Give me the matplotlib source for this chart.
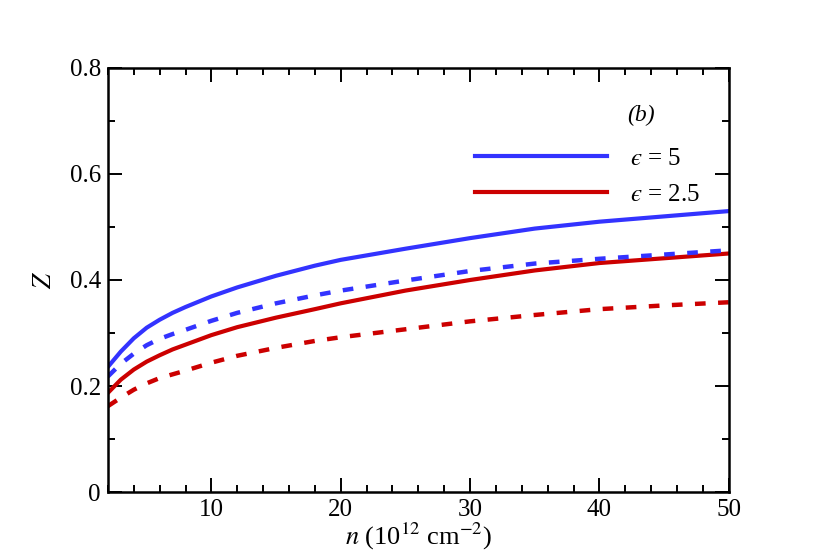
import numpy as np
import matplotlib
matplotlib.use('Agg')
from matplotlib import pyplot as plt
from matplotlib.ticker import MultipleLocator, FuncFormatter

plt.rcParams['font.family'] = ['Liberation Serif', 'STIXGeneral', 'DejaVu Serif']
plt.rcParams['mathtext.fontset'] = 'stix'

# carrier density n (10^12 cm^-2)
n = [2, 3, 4, 5, 6, 7, 8, 10, 12, 15, 18, 20, 25, 30, 35, 40, 45, 50]

# Z for eps = 5 (blue) and eps = 2.5 (red), solid and dashed
z_eps5_solid = [0.236, 0.265, 0.290, 0.310, 0.325, 0.338, 0.349, 0.369, 0.386, 0.408,
                0.427, 0.438, 0.459, 0.479, 0.497, 0.510, 0.520, 0.530]
z_eps5_dash = [0.218, 0.242, 0.261, 0.277, 0.289, 0.298, 0.306, 0.323, 0.338, 0.356,
               0.371, 0.380, 0.399, 0.417, 0.431, 0.440, 0.448, 0.456]
z_eps25_solid = [0.187, 0.212, 0.231, 0.246, 0.258, 0.269, 0.278, 0.296, 0.311, 0.329,
                 0.345, 0.356, 0.380, 0.400, 0.418, 0.432, 0.441, 0.450]
z_eps25_dash = [0.162, 0.178, 0.193, 0.205, 0.215, 0.222, 0.229, 0.244, 0.257, 0.272,
                0.285, 0.292, 0.307, 0.322, 0.334, 0.345, 0.352, 0.358]

blue = '#3333ff'
red = '#cc0000'

fig = plt.figure(figsize=(8.3, 5.55), dpi=100)
ax = fig.add_axes([0.130, 0.1135, 0.748, 0.764])

ax.plot(n, z_eps5_solid, color=blue, lw=3, label='$\u03f5$ = 5')
ax.plot(n, z_eps25_solid, color=red, lw=3, label='$\u03f5$ = 2.5')
ax.plot(n, z_eps5_dash, color=blue, lw=3.2, dashes=(2.4, 2.8))
ax.plot(n, z_eps25_dash, color=red, lw=3.2, dashes=(2.4, 2.8))

ax.set_xlim(2, 50)
ax.set_ylim(0, 0.8)
ax.xaxis.set_major_locator(MultipleLocator(10))
ax.xaxis.set_minor_locator(MultipleLocator(2))
ax.yaxis.set_major_locator(MultipleLocator(0.2))
ax.yaxis.set_minor_locator(MultipleLocator(0.1))
ax.yaxis.set_major_formatter(FuncFormatter(lambda v, p: '0' if v == 0 else '%.1f' % v))

ax.tick_params(which='both', direction='in', top=True, right=True, labelsize=18, width=1.4)
ax.tick_params(which='major', length=10, pad=5)
ax.tick_params(which='minor', length=5)
for s in ax.spines.values():
    s.set_linewidth(1.8)

ax.set_xlabel(r'$n$ (10$^{12}$ cm$^{-2}$)', fontsize=19, labelpad=0)
ax.set_ylabel(r'$Z$', fontsize=19, labelpad=10)

ax.text(0.858, 0.887, '(b)', transform=ax.transAxes, fontsize=17,
        style='italic', ha='center', va='center')

ax.legend(loc='upper left', bbox_to_anchor=(0.591, 0.812), frameon=False,
          fontsize=18, handlelength=5.3, handletextpad=0.9, labelspacing=0.52,
          borderpad=0, borderaxespad=0)

fig.savefig('out.png', dpi=100)
